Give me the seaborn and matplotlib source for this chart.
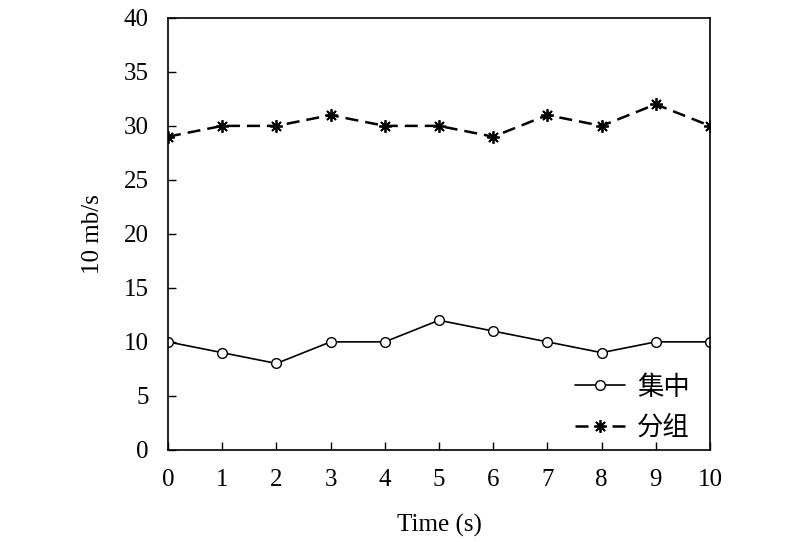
import pandas as pd
import matplotlib
matplotlib.use("Agg")
import matplotlib.pyplot as plt
from matplotlib.lines import Line2D
import seaborn as sns

time_s = [0, 1, 2, 3, 4, 5, 6, 7, 8, 9, 10]
jizhong = [10, 9, 8, 10, 10, 12, 11, 10, 9, 10, 10]
fenzu = [29, 30, 30, 31, 30, 30, 29, 31, 30, 32, 30]
y_ticks = [0, 5, 10, 15, 20, 25, 30, 35, 40]

df = pd.DataFrame({
    "time": time_s * 2,
    "rate": jizhong + fenzu,
    "series": ["集中"] * len(time_s) + ["分组"] * len(time_s),
})

sns.set_style("ticks")
plt.rcParams['font.family'] = ['Liberation Serif', 'Noto Sans CJK SC']
plt.rcParams['text.color'] = 'black'
plt.rcParams['axes.labelcolor'] = 'black'

fig = plt.figure(figsize=(8, 5.42), dpi=100)
ax = fig.add_axes([0.21, 0.170, 0.6775, 0.797])

circle_kw = dict(color="black", linewidth=1.2, marker="o", markersize=7,
                 markerfacecolor="white", markeredgecolor="black",
                 markeredgewidth=1.0)
star_kw = dict(color="black", linewidth=1.8, marker=(8, 2, 0), markersize=9,
               markeredgewidth=1.3, markeredgecolor="black")

sns.lineplot(data=df[df.series == "集中"], x="time", y="rate", ax=ax,
             legend=False, **circle_kw)
sns.lineplot(data=df[df.series == "分组"], x="time", y="rate", ax=ax,
             legend=False, **star_kw)
ax.lines[1].set_dashes([5.2, 2.8])

ax.set_xlim(0, 10)
ax.set_ylim(0, 40)
ax.set_xticks(time_s)
ax.set_yticks(y_ticks)
ax.tick_params(direction="in", length=6, width=1, labelsize=18, pad=14,
               colors="black", labelcolor="black")
for s in ax.spines.values():
    s.set_visible(True)
    s.set_linewidth(1.2)
    s.set_color("black")

ax.set_xlabel("Time (s)", fontsize=18, labelpad=16)
ax.set_ylabel("10 mb/s", fontsize=18, labelpad=14)

# legend handles: dashed one gets a wide gap so it reads "- * -"
h1 = Line2D([], [], **circle_kw)
h2 = Line2D([], [], linestyle=(0, (5.2, 9.6)), **star_kw)
leg = ax.legend(handles=[h1, h2], labels=["集中", "分组"],
                loc="lower right", frameon=False, fontsize=19,
                handlelength=1.9, handletextpad=0.45, labelspacing=0.6,
                borderaxespad=0, borderpad=0,
                bbox_to_anchor=(0.963, 0.023))
for t in leg.get_texts():
    t.set_color("black")

fig.savefig("out.png", dpi=100)
